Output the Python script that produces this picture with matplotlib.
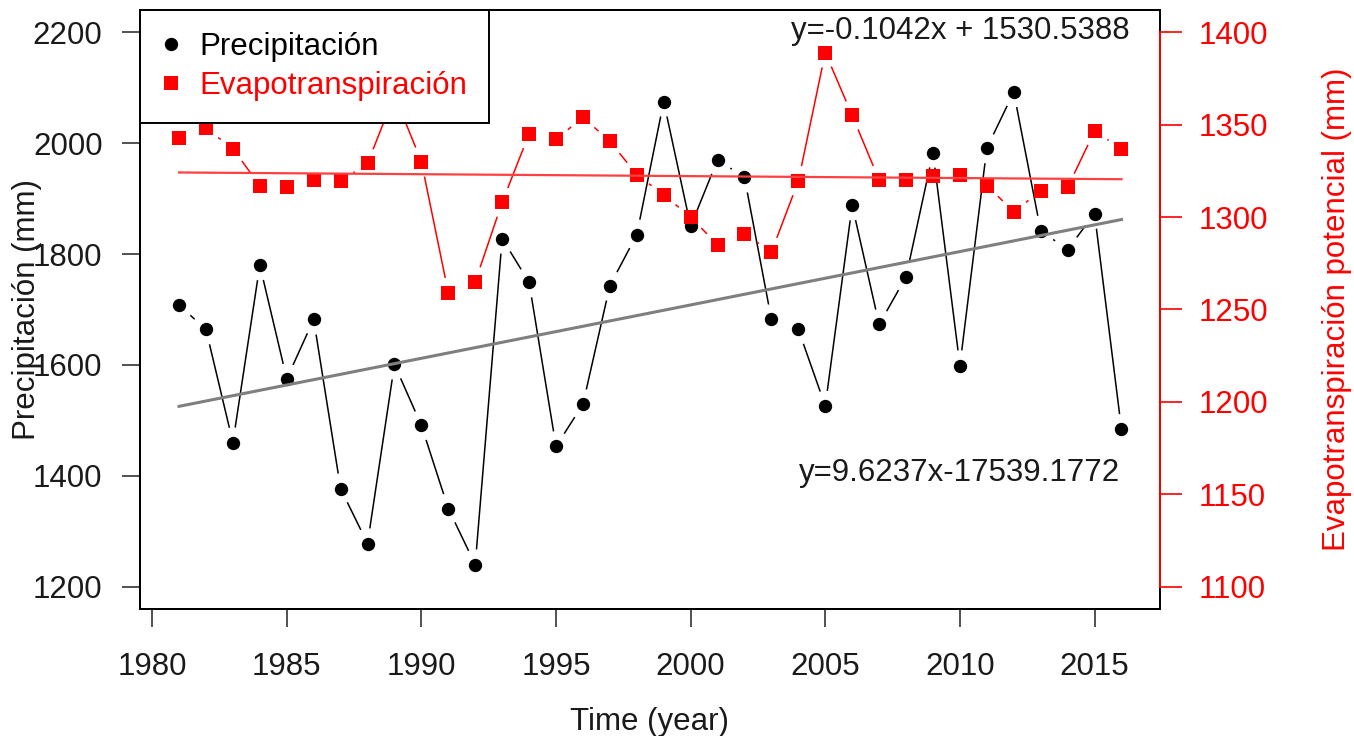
import matplotlib
matplotlib.use("Agg")
import matplotlib.pyplot as plt
from matplotlib.lines import Line2D
import numpy as np

# ── data ─────────────────────────────────────────────────────────────────────
years = list(range(1981, 2017))
precip = [1708, 1664, 1460, 1780, 1575, 1682, 1377, 1278, 1601, 1491,
          1341, 1240, 1828, 1749, 1453, 1529, 1743, 1835, 2075, 1850,
          1970, 1938, 1682, 1664, 1526, 1888, 1673, 1759, 1983, 1599,
          1991, 2092, 1842, 1808, 1873, 1484]
etp = [1343, 1348, 1337, 1317, 1316, 1320, 1319.5, 1329, 1366, 1330,
       1259, 1265, 1308, 1345, 1342, 1354, 1341, 1323, 1312, 1300,
       1285, 1291, 1281, 1319.5, 1389, 1355, 1320, 1320, 1322, 1323,
       1317, 1303, 1314, 1316, 1346.5, 1337]

precip_fit = (9.6237, -17539.1772)
etp_fit = (-0.1042, 1530.5388)
precip_eq = "y=9.6237x-17539.1772"
etp_eq = "y=-0.1042x + 1530.5388"

x_ticks = [1980, 1985, 1990, 1995, 2000, 2005, 2010, 2015]
p_ticks = [1200, 1400, 1600, 1800, 2000, 2200]
e_ticks = [1100, 1150, 1200, 1250, 1300, 1350, 1400]

# ── style ────────────────────────────────────────────────────────────────────
plt.rcParams["font.family"] = ["Liberation Sans", "DejaVu Sans"]
FS = 22.5
RED = "#ff0000"
GAP = 16  # px gap around points (R type = "b")

fig = plt.figure(figsize=(13.54, 7.36), dpi=100, facecolor="white")
ax = fig.add_axes([0.1034, 0.1726, 0.7533, 0.8138])
ax.set_xlim(1979.55, 2017.43)
ax.set_ylim(1160, 2240)
ax2 = ax.twinx()
ax2.set_ylim(1088, 1412)


def gapped(a, x, y, gap, **kw):
    pts = a.transData.transform(np.column_stack([x, y]))
    inv = a.transData.inverted()
    for p0, p1 in zip(pts[:-1], pts[1:]):
        d = p1 - p0
        L = np.hypot(*d)
        if L <= 2 * gap:
            continue
        u = d / L
        s = inv.transform(p0 + u * gap)
        e = inv.transform(p1 - u * gap)
        a.plot([s[0], e[0]], [s[1], e[1]], **kw)


# precipitation
gapped(ax, years, precip, GAP, color="black", lw=1.1, zorder=2)
ax.plot(years, precip, "o", color="black", ms=9.6, mew=0, zorder=3)
ax.plot(years, np.polyval(precip_fit, years), color="#7f7f7f", lw=2.2, zorder=4)

# evapotranspiration
gapped(ax2, years, etp, GAP, color=RED, lw=1.1, zorder=2)
ax2.plot(years, etp, "s", color=RED, ms=9.8, mew=0, zorder=3)
ax2.plot(years, np.polyval(etp_fit, years), color="#ff4040", lw=1.6, zorder=4)

# axes styling
for a in (ax, ax2):
    for sp in a.spines.values():
        sp.set_linewidth(1.4)
        sp.set_color("black")
ax2.spines["right"].set_color(RED)
ax2.spines["right"].set_bounds(1100, 1400)
ax2.spines["right"].set_zorder(5)

ax.set_xticks(x_ticks)
ax.set_yticks(p_ticks)
ax2.set_yticks(e_ticks)
ax.tick_params(axis="both", labelsize=FS, length=13, width=1.2, color="#333333",
               labelcolor="#1a1a1a")
ax.tick_params(axis="x", pad=18)
ax.tick_params(axis="y", pad=14)
ax2.tick_params(axis="y", labelsize=FS, length=16, width=1.2, color=RED,
                labelcolor=RED, pad=12)

ax.text(-0.111, 0.5, "Precipitación (mm)", transform=ax.transAxes,
        rotation=90, ha="center", va="center", fontsize=FS, color="#1a1a1a")
ax.text(1.1735, 0.5, "Evapotranspiración potencial (mm)", transform=ax.transAxes,
        rotation=90, ha="center", va="center", fontsize=FS, color=RED)
ax.text(0.5, -0.188, "Time (year)", transform=ax.transAxes,
        ha="center", va="center", fontsize=FS, color="#1a1a1a")

# equations
ax.text(2010, 2202, etp_eq, ha="center", va="center", fontsize=FS,
        color="#1a1a1a", zorder=6)
ax.text(2010, 1406, precip_eq, ha="center", va="center", fontsize=FS,
        color="#1a1a1a", zorder=6)

# legend
handles = [Line2D([], [], marker="o", ls="none", color="black", ms=9.6, mew=0),
           Line2D([], [], marker="s", ls="none", color=RED, ms=9.8, mew=0)]
leg = ax2.legend(handles, ["Precipitación", "Evapotranspiración"],
                 loc="upper left", bbox_to_anchor=(0, 1), borderaxespad=0,
                 fontsize=FS, frameon=True, fancybox=False, framealpha=1,
                 edgecolor="black", handlelength=0.57, handletextpad=0.64,
                 labelspacing=0.3, borderpad=0.7,
                 labelcolor=["black", RED])
leg.get_frame().set_linewidth(1.4)
leg.set_zorder(10)

fig.savefig("out.png", dpi=100, facecolor="white")
